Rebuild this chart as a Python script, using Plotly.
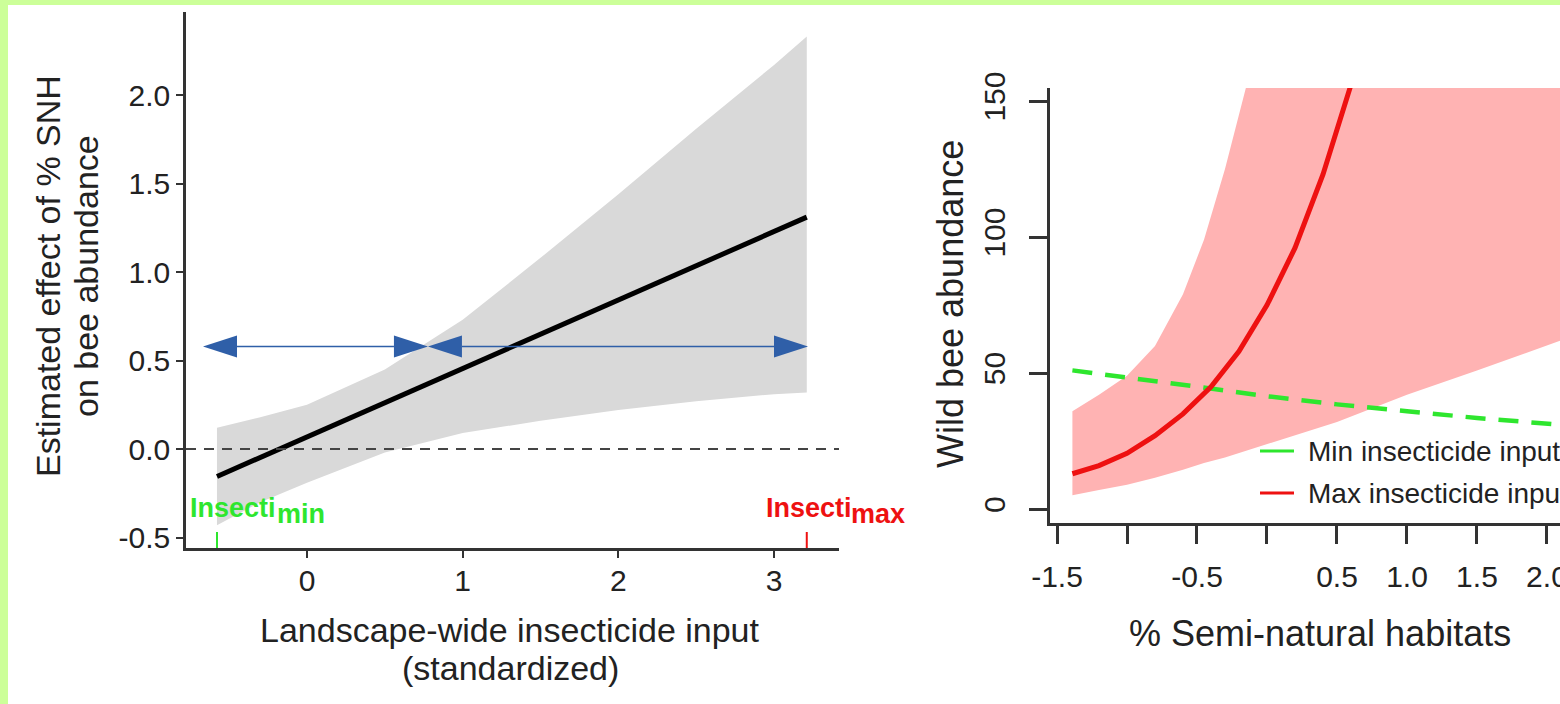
import plotly.graph_objects as go

W, H = 1560, 704

# ---------------- Left panel data ----------------
left_xticks = [0, 1, 2, 3]
left_xticklabels = ["0", "1", "2", "3"]
left_yticks = [-0.5, 0.0, 0.5, 1.0, 1.5, 2.0]
left_yticklabels = ["-0.5", "0.0", "0.5", "1.0", "1.5", "2.0"]

insecti_min = -0.578
insecti_max = 3.21
effect_x = [insecti_min, insecti_max]
effect_y = [-0.155, 1.31]

band_x = [-0.578, -0.3, 0.0, 0.5, 1.0, 1.5, 2.0, 2.5, 3.0, 3.21]
band_upper = [0.12, 0.18, 0.25, 0.45, 0.73, 1.08, 1.44, 1.81, 2.17, 2.33]
band_lower = [-0.43, -0.30, -0.19, -0.02, 0.09, 0.16, 0.22, 0.27, 0.31, 0.32]

arrow_y = 0.58
arrow_start = [-0.668, 0.777]
arrow_end = [0.777, 3.218]

# ---------------- Right panel data ----------------
right_xticks = [-1.5, -1.0, -0.5, 0.0, 0.5, 1.0, 1.5, 2.0]
right_xticklabels = ["-1.5", "", "-0.5", "", "0.5", "1.0", "1.5", "2.0"]
right_yticks = [0, 50, 100, 150]
right_yticklabels = ["0", "50", "100", "150"]

max_x = [-1.39, -1.2, -1.0, -0.8, -0.6, -0.4, -0.2, 0.0, 0.2, 0.4, 0.6]
max_abund = [13, 16, 20.5, 27, 35, 45, 58, 75, 96, 123, 156]

ci_x = [-1.39, -1.2, -1.0, -0.8, -0.6, -0.45, -0.3, -0.15, 0.0, 0.5, 1.0, 1.5, 2.1]
ci_upper = [36, 42, 49, 60, 79, 99, 125, 155, 190, 380, 700, 1300, 2500]
ci_lower = [5.1, 7, 9, 11.5, 14.5, 17, 19, 21.5, 24, 32, 42, 51, 62]

min_x = [-1.39, -1.0, -0.5, 0.0, 0.5, 1.0, 1.5, 2.1]
min_abund = [51, 48.5, 45, 41.5, 38.5, 36, 33.5, 31]

legend_labels = ["Min insecticide input", "Max insecticide input"]

# ---------------- styles ----------------
FONT = "Liberation Sans, Arial, sans-serif"
TXT = "#222222"
AX = "#333333"
GREEN = "#2ee62e"
RED = "#ee1111"
BLUE = "#2f5fa8"

def px(x):
    return x / W

def py(y):
    return 1 - y / H

fig = go.Figure()

# grey confidence band
fig.add_trace(go.Scatter(
    x=band_x + band_x[::-1], y=band_upper + band_lower[::-1],
    fill="toself", fillcolor="#d9d9d9", line=dict(width=0),
    mode="lines", hoverinfo="skip", showlegend=False, xaxis="x", yaxis="y"))

# effect line
fig.add_trace(go.Scatter(
    x=effect_x, y=effect_y, mode="lines",
    line=dict(color="#000000", width=5), showlegend=False, xaxis="x", yaxis="y"))

# arrows
head_len = 34 / 155.7
head_half = 11 / 177.0
for s, e in zip(arrow_start, arrow_end):
    fig.add_trace(go.Scatter(
        x=[s + head_len, e - head_len], y=[arrow_y, arrow_y], mode="lines",
        line=dict(color=BLUE, width=1.5), showlegend=False, xaxis="x", yaxis="y"))
    fig.add_trace(go.Scatter(
        x=[s, s + head_len, s + head_len, s],
        y=[arrow_y, arrow_y + head_half, arrow_y - head_half, arrow_y],
        fill="toself", fillcolor=BLUE, line=dict(width=0), mode="lines",
        showlegend=False, xaxis="x", yaxis="y"))
    fig.add_trace(go.Scatter(
        x=[e, e - head_len, e - head_len, e],
        y=[arrow_y, arrow_y + head_half, arrow_y - head_half, arrow_y],
        fill="toself", fillcolor=BLUE, line=dict(width=0), mode="lines",
        showlegend=False, xaxis="x", yaxis="y"))

# right panel: red band
fig.add_trace(go.Scatter(
    x=ci_x + ci_x[::-1], y=ci_upper + ci_lower[::-1],
    fill="toself", fillcolor="#ffb3b3", line=dict(width=0),
    mode="lines", hoverinfo="skip", showlegend=False, xaxis="x2", yaxis="y2"))

fig.add_trace(go.Scatter(
    x=min_x, y=min_abund, mode="lines",
    line=dict(color=GREEN, width=4.5, dash="20px,13px"),
    showlegend=False, xaxis="x2", yaxis="y2"))

fig.add_trace(go.Scatter(
    x=max_x, y=max_abund, mode="lines", line=dict(color=RED, width=5),
    showlegend=False, xaxis="x2", yaxis="y2"))

axis_common = dict(showline=True, linecolor=AX, showgrid=False, zeroline=False,
                   ticks="outside", tickcolor=AX, automargin=False,
                   tickfont=dict(family=FONT, size=30, color=TXT))

fig.update_layout(
    template="none",
    width=W, height=H,
    margin=dict(l=0, r=0, t=0, b=0, pad=0, autoexpand=False),
    paper_bgcolor="#ccff99",
    plot_bgcolor="rgba(0,0,0,0)",
    showlegend=False,
    xaxis=dict(domain=[px(186), px(839)], range=[-0.777, 3.417], anchor="y",
               tickmode="array", tickvals=left_xticks, ticktext=left_xticklabels,
               ticklen=7, tickwidth=2, linewidth=2.5, ticklabelstandoff=-3,
               **axis_common),
    yaxis=dict(domain=[py(548), py(12)], range=[-0.559, 2.469], anchor="x",
               tickmode="array", tickvals=left_yticks, ticktext=left_yticklabels,
               ticklen=7, tickwidth=2, linewidth=2.5, **axis_common),
    xaxis2=dict(domain=[px(1050), 1.0], range=[-1.55, 2.093], anchor="y2",
                tickmode="array", tickvals=right_xticks, ticktext=right_xticklabels,
                ticklen=18, tickwidth=2.5, linewidth=2.5, ticklabeloverflow="allow",
                ticklabelstandoff=7, **axis_common),
    yaxis2=dict(domain=[py(523), py(88)], range=[-5.1, 154.8], anchor="x2",
                tickmode="array", tickvals=right_yticks, ticktext=right_yticklabels,
                ticklen=18, tickwidth=2.5, linewidth=2.5, tickangle=-90,
                ticklabelstandoff=12, **axis_common),
)

shapes = [
    # white panel
    dict(type="rect", xref="paper", yref="paper", x0=px(8), x1=1, y0=0, y1=py(5),
         fillcolor="#ffffff", line=dict(width=0), layer="below"),
    # zero reference line
    dict(type="line", xref="x domain", yref="y", x0=0, x1=1, y0=0, y1=0,
         line=dict(color="#444444", width=2, dash="10px,8px")),
    # insecticide range ticks
    dict(type="line", xref="x", yref="y domain", x0=insecti_min, x1=insecti_min,
         y0=0, y1=16 / 536, line=dict(color=GREEN, width=2)),
    dict(type="line", xref="x", yref="y domain", x0=insecti_max, x1=insecti_max,
         y0=0, y1=16 / 536, line=dict(color=RED, width=2)),
    # legend keys
    dict(type="line", xref="paper", yref="paper", x0=px(1260), x1=px(1294),
         y0=py(451), y1=py(451), line=dict(color=GREEN, width=3)),
    dict(type="line", xref="paper", yref="paper", x0=px(1260), x1=px(1294),
         y0=py(493), y1=py(493), line=dict(color=RED, width=3)),
]
fig.update_layout(shapes=shapes)

ann = []
def text(t, x, y, size, color=TXT, angle=0, xanchor="center", yanchor="middle"):
    ann.append(dict(text=t, x=px(x), y=py(y), xref="paper", yref="paper",
                    showarrow=False, textangle=angle, xanchor=xanchor, yanchor=yanchor,
                    font=dict(family=FONT, size=size, color=color)))

# left axis titles
text("Estimated effect of % SNH", 48, 276, 34, angle=-90)
text("on bee abundance", 86, 276, 34, angle=-90)
text("Landscape-wide insecticide input", 510, 630, 34)
text("(standardized)", 510, 668, 34)
# right axis titles
text("Wild bee abundance", 950, 304, 36, angle=-90)
text("% Semi-natural habitats", 1320, 633, 36)
# legend labels
text(legend_labels[0], 1306, 451, 28, xanchor="left")
text(legend_labels[1], 1306, 493, 28, xanchor="left")

# Insecti labels (data-anchored)
def dlab(t, x, y, xshift, size, color):
    ann.append(dict(text="<b>" + t + "</b>", x=x, y=y, xref="x", yref="y",
                    showarrow=False, xanchor="left", yanchor="middle", xshift=xshift,
                    font=dict(family=FONT, size=size, color=color)))

dlab("Insecti", insecti_min, -0.333, -29, 27, GREEN)
dlab("min", insecti_min, -0.368, 58, 27, GREEN)
dlab("Insecti", insecti_max, -0.333, -43, 27, RED)
dlab("max", insecti_max, -0.368, 42, 27, RED)

fig.update_layout(annotations=ann)

fig.write_html("out.html", config={"displayModeBar": False},
               post_script="document.body.style.margin='0px';")
